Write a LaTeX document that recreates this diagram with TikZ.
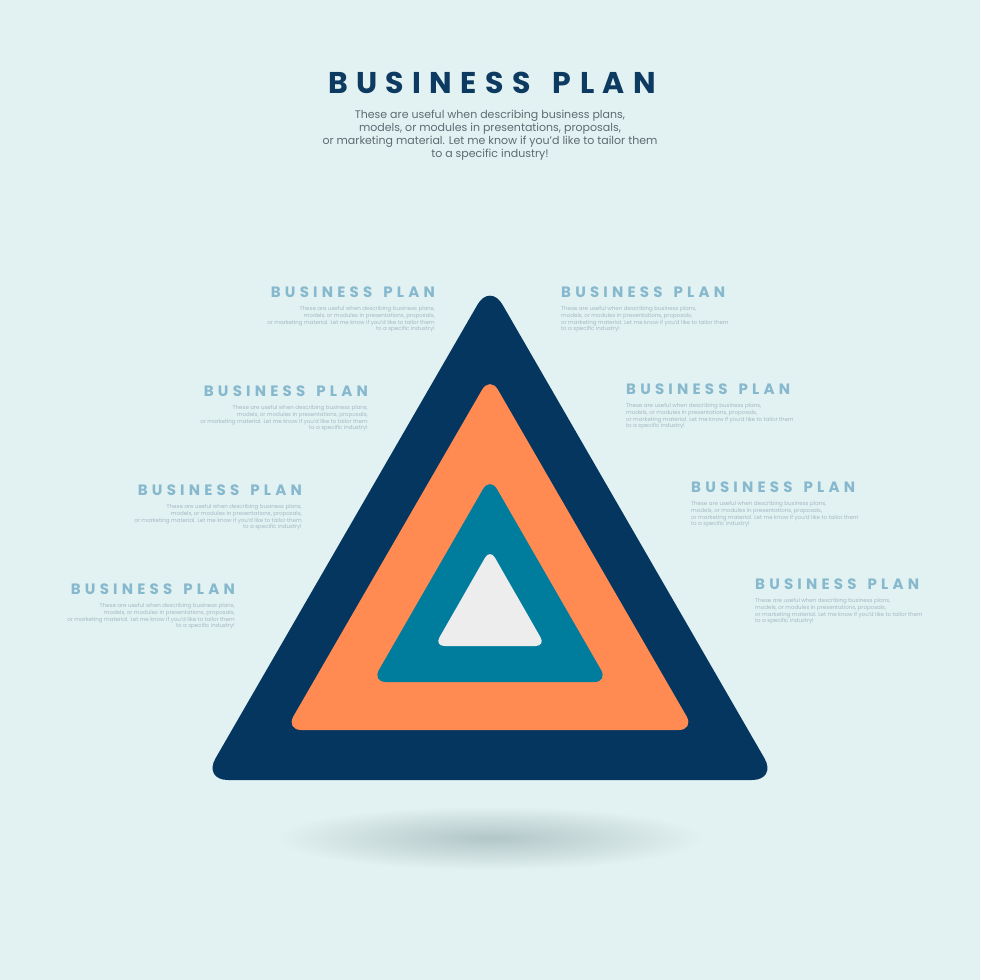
\documentclass[tikz,border=0pt]{standalone}
\usepackage{fontspec}
\setmainfont{Poppins}
\newfontfamily\spaced{Poppins}[LetterSpace=28, WordSpace=1.5]
\usepackage{tikz}
\usetikzlibrary{positioning}
\definecolor{bgcol}{HTML}{E2F1F1}
\definecolor{navy}{HTML}{04365F}
\definecolor{orng}{HTML}{FF8A52}
\definecolor{teal}{HTML}{007C9C}
\definecolor{pale}{HTML}{EDEDED}
\definecolor{headc}{HTML}{0D3A60}
\definecolor{subc}{HTML}{5F6B73}
\definecolor{smallc}{HTML}{86B8CE}
\definecolor{bodyc}{HTML}{A4BAC4}
\definecolor{shadc}{HTML}{B3C6C7}

\begin{document}
\begin{tikzpicture} [x = 1pt, y = -1pt,
  ttl/.style = {inner sep = 0pt, text = smallc, font = \spaced\bfseries\fontsize{15}{17}\selectfont},
  txt/.style = {inner sep = 0pt, text = bodyc, font = \fontsize{5.5}{6.8}\selectfont}]
\useasboundingbox (0,0) rectangle (980,980);
\fill [bgcol] (0,0) rectangle (980,980);
\shade [inner color = shadc, outer color = bgcol] (490,838) ellipse [x radius = 215, y radius = 32];
\fill [navy, rounded corners = 25pt] (490,283) -- (777,780) -- (203,780) -- cycle;
\fill [orng, rounded corners = 16pt] (490,376) -- (694.5,730) -- (285.5,730) -- cycle;
\fill [teal, rounded corners = 14pt] (490,477) -- (608,682) -- (372,682) -- cycle;
\fill [pale, rounded corners = 10pt] (490,549) -- (545.5,646) -- (434.5,646) -- cycle;
\node (h) [anchor = base, inner sep = 0pt, text = headc, font = \spaced\bfseries\fontsize{30}{32}\selectfont] at (492,93) {BUSINESS PLAN};
\node (s) [below = 16pt of h, xshift = -2pt, inner sep = 0pt, align = center, text = subc, font = \fontsize{11}{13}\selectfont]
  {These are useful when describing business plans,\\ models, or modules in presentations, proposals,\\ or marketing material. Let me know if you'd like to tailor them\\ to a specific industry!};
% left side
\node (l1) [ttl, anchor = south east] at (435,298) {BUSINESS PLAN};
\node (lt1) [txt, align = right, below = 8pt of l1.south east, anchor = north east]
  {These are useful when describing business plans,\\ models, or modules in presentations, proposals,\\ or marketing material. Let me know if you'd like to tailor them\\ to a specific industry!};
\node (l2) [ttl, anchor = south east] at (368,397) {BUSINESS PLAN};
\node (lt2) [txt, align = right, below = 8pt of l2.south east, anchor = north east]
  {These are useful when describing business plans,\\ models, or modules in presentations, proposals,\\ or marketing material. Let me know if you'd like to tailor them\\ to a specific industry!};
\node (l3) [ttl, anchor = south east] at (302,496) {BUSINESS PLAN};
\node (lt3) [txt, align = right, below = 8pt of l3.south east, anchor = north east]
  {These are useful when describing business plans,\\ models, or modules in presentations, proposals,\\ or marketing material. Let me know if you'd like to tailor them\\ to a specific industry!};
\node (l4) [ttl, anchor = south east] at (235,595) {BUSINESS PLAN};
\node (lt4) [txt, align = right, below = 8pt of l4.south east, anchor = north east]
  {These are useful when describing business plans,\\ models, or modules in presentations, proposals,\\ or marketing material. Let me know if you'd like to tailor them\\ to a specific industry!};
% right side
\node (r1) [ttl, anchor = south west] at (561,298) {BUSINESS PLAN};
\node (rt1) [txt, align = left, below = 8pt of r1.south west, anchor = north west]
  {These are useful when describing business plans,\\ models, or modules in presentations, proposals,\\ or marketing material. Let me know if you'd like to tailor them\\ to a specific industry!};
\node (r2) [ttl, anchor = south west] at (626,395) {BUSINESS PLAN};
\node (rt2) [txt, align = left, below = 8pt of r2.south west, anchor = north west]
  {These are useful when describing business plans,\\ models, or modules in presentations, proposals,\\ or marketing material. Let me know if you'd like to tailor them\\ to a specific industry!};
\node (r3) [ttl, anchor = south west] at (691,493) {BUSINESS PLAN};
\node (rt3) [txt, align = left, below = 8pt of r3.south west, anchor = north west]
  {These are useful when describing business plans,\\ models, or modules in presentations, proposals,\\ or marketing material. Let me know if you'd like to tailor them\\ to a specific industry!};
\node (r4) [ttl, anchor = south west] at (755,590) {BUSINESS PLAN};
\node (rt4) [txt, align = left, below = 8pt of r4.south west, anchor = north west]
  {These are useful when describing business plans,\\ models, or modules in presentations, proposals,\\ or marketing material. Let me know if you'd like to tailor them\\ to a specific industry!};
\end{tikzpicture}
\end{document}
